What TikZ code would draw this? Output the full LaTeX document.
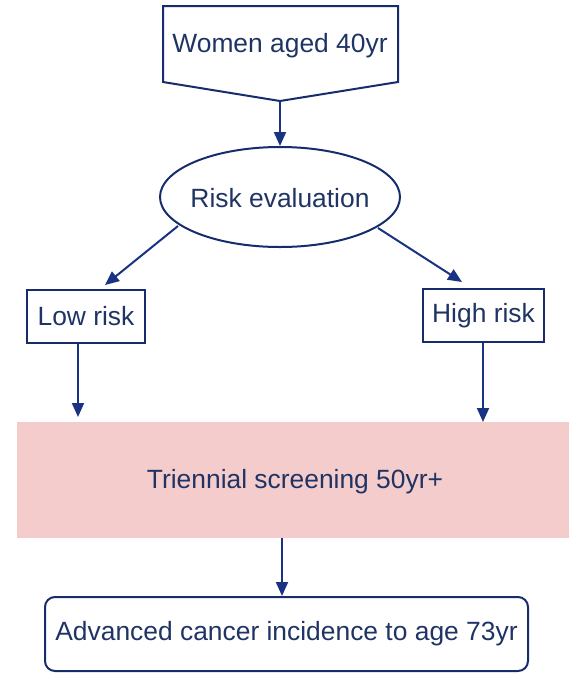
\documentclass[tikz,border=0pt]{standalone}
\usepackage{fontspec}
\setmainfont{Liberation Sans}
\usetikzlibrary{shapes.geometric,arrows.meta}
\definecolor{navy}{RGB}{22,44,108}
\definecolor{txt}{RGB}{31,52,100}
\definecolor{arrc}{RGB}{25,50,130}
\definecolor{pinkfill}{RGB}{244,204,204}
\tikzset{
  lbl/.style={text=txt,font=\fontsize{26.4}{30}\selectfont},
  boxnode/.style={lbl,draw=navy,line width=2pt,inner sep=0pt},
  arr/.style={draw=arrc,line width=2pt,-{Triangle[length=14pt,width=12pt]}}
}
\begin{document}
\begin{tikzpicture}[x=1pt,y=-1pt]
\useasboundingbox (0,0) rectangle (569,673);
% top pentagon
\draw[navy,line width=2pt,line join=miter] (163,6) -- (398,6) -- (398,82) -- (280,101) -- (163,82) -- cycle;
\node[lbl] (women) at (280,46) {Women aged 40yr};
\coordinate (wtip) at (280,101);
% ellipse
\node[draw=navy,line width=2pt,ellipse,inner sep=0pt,minimum width=240pt,minimum height=100pt] (risk) at (280,197) {};
\node[lbl] (risktxt) at (280,198) {Risk evaluation};
% low / high
\node[boxnode,rectangle,minimum width=118pt,minimum height=53pt] (low) at (86,316.5) {Low risk};
\node[boxnode,rectangle,minimum width=121pt,minimum height=53pt] (high) at (483.5,315.5) {High risk};
% pink screening
\node[lbl,fill=pinkfill,minimum width=552pt,minimum height=116pt,inner sep=0pt] (screen) at (293,480) {};
\node[lbl] (screentxt) at (295,482) {Triennial screening 50yr+};
% bottom
\node[boxnode,rectangle,rounded corners=10pt,minimum width=483pt,minimum height=74pt] (adv) at (286.5,634) {Advanced cancer incidence to age 73yr};
% connectors
\coordinate (rl) at (178,226);
\coordinate (rr) at (378,228);
\coordinate (lowend) at (78,417);
\coordinate (highend) at (483,422);
\draw[arr] (wtip) -- (risk.north);
\draw[arr] (rl) -- (105,285);
\draw[arr] (rr) -- (462,282);
\draw[arr] (low.south -| lowend) -- (lowend);
\draw[arr] (high.south -| highend) -- (highend);
\draw[arr] (screen.south -| 282,0) -- (adv.north -| 282,0);
\end{tikzpicture}
\end{document}
